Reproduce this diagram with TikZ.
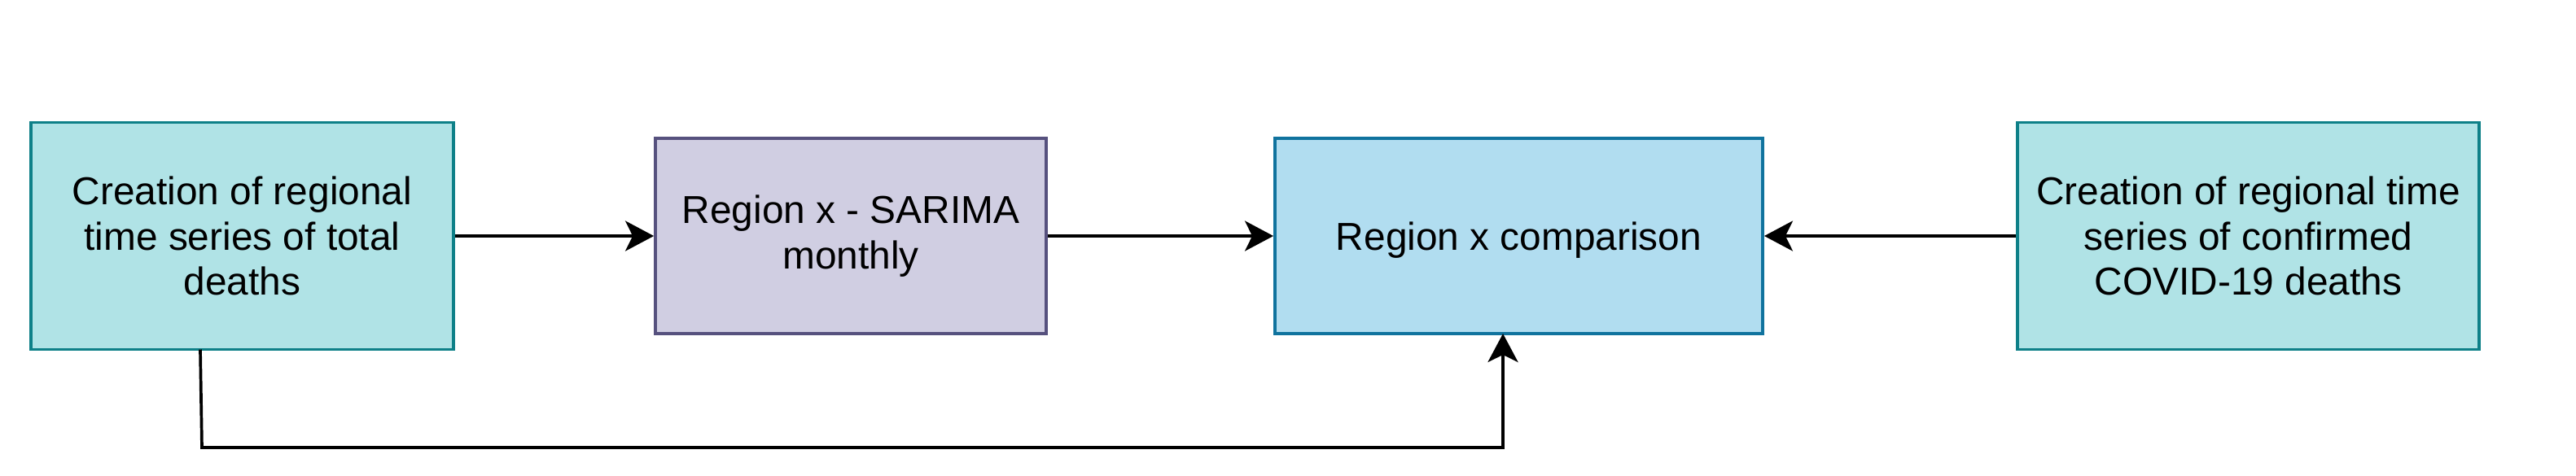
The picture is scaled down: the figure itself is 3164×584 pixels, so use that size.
\documentclass[tikz,border=0pt]{standalone}
\usepackage{fontspec}
\setmainfont{Liberation Sans}
\usetikzlibrary{arrows.meta}
\definecolor{tealfill}{HTML}{B0E3E6}
\definecolor{tealdraw}{HTML}{0E8088}
\definecolor{purfill}{HTML}{D0CEE2}
\definecolor{purdraw}{HTML}{56517E}
\definecolor{bluefill}{HTML}{B1DDF0}
\definecolor{bluedraw}{HTML}{10739E}
\tikzset{
  box/.style={rectangle, inner sep=0pt, line width=0.035cm, align=center,
    font=\fontsize{13.6pt}{15.8pt}\selectfont},
  tealbox/.style={box, fill=tealfill, draw=tealdraw},
  purbox/.style={box, fill=purfill, draw=purdraw},
  bluebox/.style={box, fill=bluefill, draw=bluedraw},
  arr/.style={line width=0.037cm, -{Stealth[length=0.35cm, width=0.37cm, inset=0.09cm]}}
}
\begin{document}
\begin{tikzpicture}[x=0.01cm, y=-0.01cm]
\useasboundingbox (0,0) rectangle (3164,584);
\node[tealbox, minimum width=5.19cm, minimum height=2.79cm] (b1) at (297.5,290)
  {Creation of regional\\time series of total\\deaths};
\node[purbox, minimum width=4.80cm, minimum height=2.40cm] (b2) at (1045,290)
  {Region x - SARIMA\\monthly};
\node[bluebox, minimum width=5.99cm, minimum height=2.40cm, text depth=0pt] (b3) at (1865.5,290)
  {Region x comparison};
\node[tealbox, minimum width=5.67cm, minimum height=2.79cm] (b4) at (2761.5,290)
  {Creation of regional time\\series of confirmed\\COVID-19 deaths};
\coordinate (s0) at (246,429.5);
\coordinate (s1) at (248,550);
\coordinate (s2) at (1846,550);
\coordinate (s3) at (1846,410);
\draw[arr] (b1.east) -- (b2.west);
\draw[arr] (b2.east) -- (b3.west);
\draw[arr] (b4.west) -- (b3.east);
\draw[arr] (s0) -- (s1) -- (s2) -- (s3);
\end{tikzpicture}
\end{document}
